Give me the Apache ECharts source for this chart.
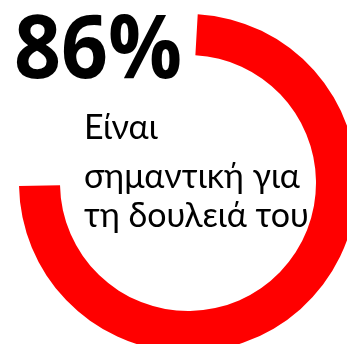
<!DOCTYPE html>
<html>
<head>
<meta charset="utf-8">
<script src="https://cdn.jsdelivr.net/npm/echarts@6/dist/echarts.min.js"></script>
<style>
  html, body { margin: 0; padding: 0; background: #fff; }
  #chart { width: 347px; height: 344px; }
</style>
</head>
<body>
<div id="chart"></div>
<script>
// Share of respondents and the caption under the figure
const shareValue = 86;
const shareMax = 100;
const captionLines = ['Είναι', 'σημαντική για', 'τη δουλειά του'];

// Ring geometry: the arc for the value sweeps this many degrees clockwise
const startAngle = 86.7;
const valueSweep = 265.7;
const fullSweep = valueSweep * shareMax / shareValue;

// Top edges of the caption lines
const captionTops = [111, 160, 199];

const chart = echarts.init(document.getElementById('chart'), null, { renderer: 'canvas' });

const captionText = captionLines.map((line, i) => ({
  type: 'text',
  x: 84,
  y: captionTops[i],
  z: 10,
  style: {
    text: line,
    fontFamily: 'Lato',
    fontSize: 34,
    fontWeight: 'normal',
    fill: '#000000',
    verticalAlign: 'top'
  }
}));

// Big percentage, condensed slightly
const headline = {
  type: 'text',
  x: 14,
  y: 9,
  scaleX: 0.935,
  z: 10,
  style: {
    text: shareValue + '%',
    fontFamily: 'Open Sans',
    fontSize: 88,
    fontWeight: 'bold',
    fill: '#000000',
    verticalAlign: 'top'
  }
};

chart.setOption({
  animation: false,
  backgroundColor: '#ffffff',
  series: [{
    type: 'gauge',
    center: [188, 183],
    radius: 169,
    startAngle: startAngle,
    endAngle: startAngle - fullSweep,
    clockwise: true,
    min: 0,
    max: shareMax,
    z: 1,
    progress: { show: true, width: 41, roundCap: false, itemStyle: { color: '#ff0000' } },
    axisLine: { show: true, lineStyle: { width: 41, color: [[1, 'rgba(0,0,0,0)']] } },
    splitLine: { show: false },
    axisTick: { show: false },
    axisLabel: { show: false },
    pointer: { show: false },
    anchor: { show: false },
    title: { show: false },
    detail: { show: false },
    data: [{ value: shareValue }]
  }],
  graphic: [headline].concat(captionText)
});
</script>
</body>
</html>
